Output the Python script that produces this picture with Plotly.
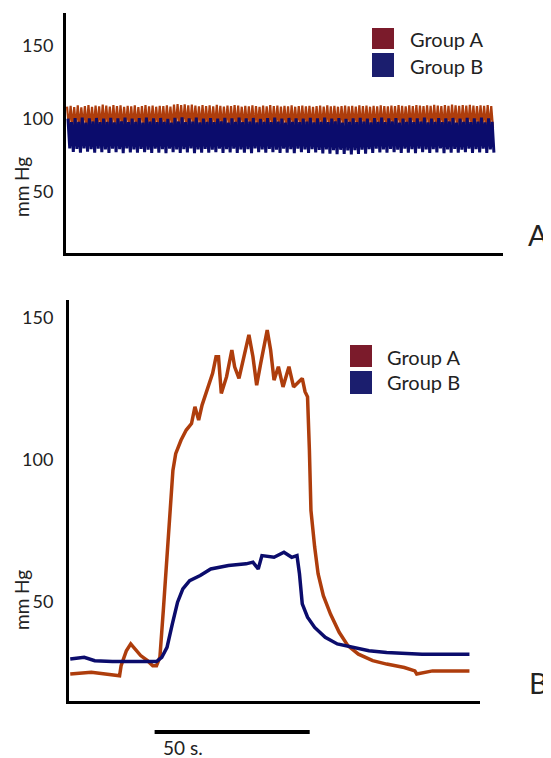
import plotly.graph_objects as go

# ---------------- Data ----------------
groups = ["Group A", "Group B"]
y_ticks = [50, 100, 150]

# Panel A: baseline pulse recording, per-beat peak and trough (mm Hg)
a_peak_A = [108.5,109.0,108.2,109.3,108.0,108.8,109.5,108.4,109.1,108.6,
            109.8,109.2,108.5,109.6,108.9,109.4,108.3,109.0,108.7,109.3,
            108.2,108.9,109.5,108.6,109.1,108.4,109.0,108.8,109.4,108.5,
            109.9,110.2,109.6,110.0,109.3,109.8,109.1,108.7,109.5,108.9,
            109.3,108.6,109.7,109.0,108.5,109.2,108.8,109.6,109.1,108.4,
            109.0,108.7,109.4,108.9,108.3,109.1,108.6,109.5,108.8,109.2,
            108.5,109.0,108.7,109.3,108.4,108.9,109.2,108.6,109.0,108.3,
            108.8,109.1,108.5,109.4,108.7,109.0,108.4,108.9,109.2,108.6,
            109.0,108.5,109.3,108.8,109.1,108.4,109.0,108.7,109.3,108.9,
            108.6,109.2,108.8,109.5,109.0,108.7,109.3,108.9,109.6,109.1,
            108.8,109.4,109.0,109.7,109.2,108.9,109.5,109.0,109.8,109.3,
            109.0,109.6,109.1,109.7,109.2,108.9,109.4,109.0,109.5,108.8]
a_trough_A = [94.0,94.5,93.8,94.2,94.8,93.6,94.3,94.0,94.6,93.9,
              94.2,94.7,93.8,94.4,94.1,93.7,94.5,94.0,94.3,93.9,
              94.6,94.1,93.8,94.4,94.0,94.7,93.9,94.2,94.5,93.8,
              94.9,95.2,94.6,95.0,94.4,94.8,94.1,94.5,93.9,94.3,
              94.0,94.6,93.8,94.2,94.5,93.9,94.3,94.0,94.7,94.1,
              93.8,94.4,94.0,94.6,93.9,94.2,94.5,93.7,94.3,94.0,
              94.6,94.1,93.8,94.4,94.0,94.7,93.9,94.2,94.5,93.8,
              94.3,94.0,94.6,94.1,93.8,94.4,94.0,94.7,93.9,94.2,
              94.5,93.8,94.3,94.0,94.6,94.1,93.8,94.4,94.0,94.7,
              93.9,94.2,94.5,93.8,94.3,94.0,94.6,94.1,93.8,94.4,
              94.0,94.7,93.9,94.2,94.5,93.8,94.3,94.0,94.6,94.1,
              93.8,94.4,94.0,94.7,93.9,94.2,94.5,93.8,94.3,94.0]
a_peak_B = [100.2,97.8,100.6,98.1,100.9,97.6,100.4,98.3,100.7,97.9,
            100.3,98.0,100.8,97.7,100.5,98.4,101.0,97.8,100.2,98.1,
            100.6,97.5,100.9,98.2,100.4,97.9,100.7,98.0,100.1,97.6,
            100.8,98.3,101.1,97.9,100.5,98.2,100.9,97.7,100.3,98.0,
            100.6,97.8,100.2,98.4,100.8,97.6,100.5,98.1,100.9,97.9,
            100.4,98.2,100.7,97.7,100.1,98.0,100.6,97.8,100.9,98.3,
            100.3,97.6,100.7,98.1,100.5,97.9,100.2,98.2,100.8,97.7,
            100.4,98.0,100.9,97.8,100.3,98.4,100.6,97.6,100.1,98.1,
            100.5,97.9,100.8,98.2,100.2,97.7,100.6,98.0,100.9,97.8,
            100.4,98.3,100.7,97.6,100.3,98.1,100.8,97.9,100.5,98.2,
            100.9,97.7,100.2,98.0,100.6,97.8,100.4,98.3,100.7,97.6,
            100.3,98.1,100.8,97.9,100.5,98.2,100.9,97.7,100.4,98.0]
a_trough_B = [79.8,77.4,79.5,77.0,79.9,77.6,79.3,76.9,79.6,77.3,
              79.1,76.8,79.7,77.2,79.4,76.6,79.8,77.1,79.2,76.9,
              79.5,77.3,79.0,76.7,79.6,77.0,79.3,76.5,79.7,77.2,
              79.1,76.8,79.4,77.1,79.8,76.6,79.2,77.0,79.5,76.9,
              79.0,77.3,79.6,76.7,79.3,77.1,79.7,76.8,79.2,77.0,
              79.4,76.6,79.8,77.2,79.1,76.9,79.5,77.3,79.0,76.7,
              79.6,77.0,79.3,76.5,79.7,77.2,79.1,76.8,79.4,77.1,
              78.8,76.4,79.2,76.2,78.6,75.9,78.9,76.1,78.5,75.8,
              78.7,76.0,79.0,76.3,79.3,76.8,79.6,77.1,79.2,76.9,
              79.5,77.2,79.0,76.7,79.6,77.0,79.3,76.6,79.7,77.3,
              79.1,76.8,79.4,77.1,79.8,76.6,79.2,77.0,79.5,76.9,
              79.0,77.3,79.6,76.7,79.3,77.1,79.7,76.8,79.2,77.0]

# Panel B: response time course (seconds, mm Hg)
b_time_A = [0, 6.8, 11.3, 15.9, 16.4, 18.1, 19.5, 21.0, 22.7, 24.9, 26.6, 27.8, 28.9,
            30.0, 31.2, 32.3, 33.1, 34.0, 35.7, 37.4, 39.1, 40.2, 41.4, 42.5, 44.2,
            45.9, 47.0, 47.8, 48.7, 50.4, 52.1, 53.0, 54.4, 56.1, 57.6, 58.9, 60.1,
            61.4, 63.5, 64.6, 65.7, 67.1, 68.6, 70.5, 72.0, 73.7, 74.8, 75.7, 76.5,
            77.1, 77.6, 78.8, 79.9, 81.6, 83.9, 86.7, 89.5, 92.9, 97.5, 102.0, 107.7,
            111.1, 111.7, 116.8, 123.6, 128.7]
b_val_A = [24.5, 25.1, 24.5, 23.9, 27.4, 32.7, 35.1, 33.3, 31.0, 29.2, 27.4, 27.4, 30.4,
           46.8, 65.6, 86.8, 96.2, 102.1, 106.8, 110.4, 112.7, 118.6, 113.9, 119.2, 124.5,
           130.4, 136.2, 136.2, 123.3, 129.2, 138.6, 132.7, 128.6, 136.8, 143.9, 136.2, 126.2,
           133.9, 145.6, 138.6, 128.0, 132.7, 125.6, 132.7, 125.6, 127.4, 128.6, 123.9, 122.1,
           103.3, 82.1, 69.2, 59.8, 52.1, 45.6, 39.2, 34.5, 31.5, 29.2, 28.0, 26.8,
           25.6, 24.5, 25.6, 25.6, 25.6]
b_time_B = [0, 4.5, 7.9, 13.6, 22.7, 27.8, 29.5, 31.2, 32.9, 34.6, 36.3, 38.5, 41.9, 45.3,
            51.0, 56.7, 58.9, 60.6, 61.8, 65.7, 68.9, 71.4, 73.1, 73.9, 74.8, 76.5, 78.8,
            82.2, 86.1, 90.7, 96.3, 102.0, 113.4, 128.7]
b_val_B = [29.8, 30.4, 29.2, 28.9, 28.9, 28.9, 30.4, 33.9, 42.1, 49.8, 54.5, 57.4, 59.2, 61.5,
           62.7, 63.3, 63.9, 61.5, 66.2, 65.6, 67.4, 65.6, 66.2, 59.8, 49.2, 44.5, 40.9,
           37.4, 35.1, 33.9, 32.7, 32.1, 31.5, 31.5]

scale_bar_start = 27.2
scale_bar_seconds = 50

# ---------------- Styling ----------------
# The page body has an 8 px default margin, so the figure is drawn 8 px in
# from the top-left corner of the 551x758 window.
OFF = 8
W, H = 551 - OFF, 758 - OFF
TRACE_A = "#AE3D0C"
TRACE_B = "#0B0C6C"
LEG_A = "#7B1B2B"
LEG_B = "#1B1E6E"
FONT = "Lato"
TXT = "#222222"


def px(x):
    return (x - OFF) / W


def py(y):
    return 1 - (y - OFF) / H


def zigzag(peaks, troughs, offset):
    t, v = [], []
    for i, (p, q) in enumerate(zip(peaks, troughs)):
        t += [i + offset, i + offset + 0.5]
        v += [p, q]
    return t, v


fig = go.Figure()

tA, vA = zigzag(a_peak_A, a_trough_A, 0.0)
tB, vB = zigzag(a_peak_B, a_trough_B, 0.25)
fig.add_trace(go.Scatter(x=tA, y=vA, mode="lines", name=groups[0], showlegend=False,
                         line=dict(color=TRACE_A, width=2.2), xaxis="x", yaxis="y"))
fig.add_trace(go.Scatter(x=tB, y=vB, mode="lines", name=groups[1], showlegend=False,
                         line=dict(color=TRACE_B, width=3), xaxis="x", yaxis="y"))

fig.add_trace(go.Scatter(x=b_time_A, y=b_val_A, mode="lines", name=groups[0], showlegend=False,
                         line=dict(color=TRACE_A, width=3.5), xaxis="x2", yaxis="y2"))
fig.add_trace(go.Scatter(x=b_time_B, y=b_val_B, mode="lines", name=groups[1], showlegend=False,
                         line=dict(color=TRACE_B, width=3.5), xaxis="x2", yaxis="y2"))

axis_common = dict(showgrid=False, zeroline=False, showline=True, linecolor="black",
                   linewidth=3, ticks="")

fig.update_layout(
    width=W, height=H,
    margin=dict(l=0, r=0, t=0, b=0),
    paper_bgcolor="white", plot_bgcolor="white",
    showlegend=False,
    font=dict(family=FONT, color=TXT, size=18),
    xaxis=dict(domain=[px(66), px(503)], range=[-0.3, 122.3], showticklabels=False,
               anchor="y", **axis_common),
    yaxis=dict(domain=[py(253), py(13)], range=[8.2, 172.6], tickvals=y_ticks,
               tickfont=dict(size=18, family=FONT, color=TXT), ticklabelstandoff=6,
               anchor="x", **axis_common),
    xaxis2=dict(domain=[px(69), px(480)], range=[-0.4, 132.1], showticklabels=False,
                anchor="y2", **axis_common),
    yaxis2=dict(domain=[py(701), py(300)], range=[15.0, 156.2], tickvals=y_ticks,
                tickfont=dict(size=18, family=FONT, color=TXT), ticklabelstandoff=9,
                anchor="x2", **axis_common),
)

shapes = []
annotations = []

# legends (colored squares + labels)
for (sx0, sx1, tx, rows) in [
    (372, 394, 408, [(28, 49, 39), (53, 77, 66)]),
    (350, 372, 385, [(345, 367, 357), (371, 394, 382)]),
]:
    for (name, col), (y0, y1, yc) in zip([(groups[0], LEG_A), (groups[1], LEG_B)], rows):
        shapes.append(dict(type="rect", xref="paper", yref="paper",
                           x0=px(sx0), x1=px(sx1), y0=py(y1), y1=py(y0),
                           fillcolor=col, line=dict(width=0)))
        annotations.append(dict(text=name, xref="paper", yref="paper", x=px(tx), y=py(yc),
                                xanchor="left", yanchor="middle", showarrow=False,
                                font=dict(size=20, family=FONT, color=TXT)))

# y-axis titles
for yc in (187, 600):
    annotations.append(dict(text="mm Hg", xref="paper", yref="paper", x=px(21), y=py(yc),
                            textangle=-90, xanchor="center", yanchor="middle", showarrow=False,
                            font=dict(size=19, family=FONT, color=TXT)))

# panel letters
for letter, yc in (("A", 234), ("B", 682)):
    annotations.append(dict(text=letter, xref="paper", yref="paper", x=px(550), y=py(yc),
                            xanchor="right", yanchor="middle", showarrow=False,
                            font=dict(size=29, family=FONT, color=TXT)))

# time scale bar
shapes.append(dict(type="line", xref="x2", yref="paper",
                   x0=scale_bar_start, x1=scale_bar_start + scale_bar_seconds,
                   y0=py(732), y1=py(732), line=dict(color="black", width=4)))
annotations.append(dict(text=f"{scale_bar_seconds} s.", xref="x2", yref="paper",
                        x=scale_bar_start + 2.0, y=py(747), xanchor="left", yanchor="middle",
                        showarrow=False, font=dict(size=19, family=FONT, color=TXT)))

fig.update_layout(shapes=shapes, annotations=annotations)
fig.write_html("out.html")
